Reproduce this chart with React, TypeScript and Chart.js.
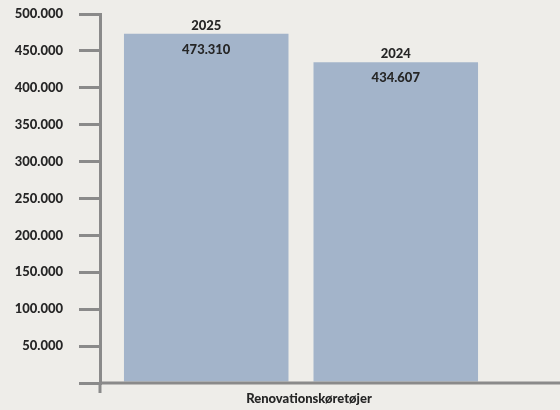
import React, { useEffect, useRef } from "react";
import { Chart, registerables } from "chart.js";

Chart.register(...registerables);

const categories = ["Renovationskøretøjer"];
const seriesLabels = ["2025", "2024"];
const values2025 = [473310];
const values2024 = [434607];
const yTicks = [0, 50000, 100000, 150000, 200000, 250000, 300000, 350000, 400000, 450000, 500000];

const BG = "#eeede9";
const BAR = "#a3b4ca";
const AXIS = "#8a8a8a";
const TEXT = "#262626";
const FONT = "Lato, 'Open Sans', sans-serif";
const WEIGHT = "900";

const fmt = (v: number) => String(v).replace(/\B(?=(\d{3})+(?!\d))/g, ".");

export default function App() {
  const ref = useRef<HTMLCanvasElement | null>(null);

  useEffect(() => {
    document.body.style.margin = "0";
    document.body.style.background = BG;
    const canvas = ref.current;
    if (!canvas) return;

    const bgPlugin = {
      id: "bg",
      beforeDraw(chart: any) {
        const { ctx, width, height } = chart;
        ctx.save();
        ctx.fillStyle = BG;
        ctx.fillRect(0, 0, width, height);
        ctx.restore();
      },
    };

    const axisPlugin = {
      id: "axisExtra",
      afterDatasetsDraw(chart: any) {
        const { ctx, chartArea } = chart;
        const y0 = chart.scales.y.getPixelForValue(0);
        ctx.save();
        ctx.strokeStyle = AXIS;
        ctx.lineWidth = 3;
        ctx.beginPath();
        ctx.moveTo(chartArea.left, y0);
        ctx.lineTo(chart.width, y0);
        ctx.stroke();
        ctx.beginPath();
        ctx.moveTo(chartArea.left, y0);
        ctx.lineTo(chartArea.left, y0 + 10);
        ctx.stroke();
        ctx.restore();
      },
    };

    const labelPlugin = {
      id: "barLabels",
      afterDatasetsDraw(chart: any) {
        const { ctx } = chart;
        ctx.save();
        ctx.fillStyle = TEXT;
        ctx.font = `${WEIGHT} 13px ${FONT}`;
        ctx.textAlign = "center";
        ctx.textBaseline = "middle";
        chart.data.datasets.forEach((ds: any, i: number) => {
          const meta = chart.getDatasetMeta(i);
          meta.data.forEach((el: any, j: number) => {
            ctx.fillText(ds.label, el.x, el.y - 8);
            ctx.fillText(fmt(ds.data[j]), el.x, el.y + 16);
          });
        });
        ctx.restore();
      },
    };

    const chart = new Chart(canvas, {
      type: "bar",
      data: {
        labels: categories,
        datasets: [
          {
            label: seriesLabels[0],
            data: values2025,
            backgroundColor: BAR,
            categoryPercentage: 0.943,
            barPercentage: 0.868,
          },
          {
            label: seriesLabels[1],
            data: values2024,
            backgroundColor: BAR,
            categoryPercentage: 0.943,
            barPercentage: 0.868,
          },
        ],
      },
      options: {
        responsive: false,
        animation: false,
        layout: { padding: { top: 14, right: 58, left: 0, bottom: 0 } },
        plugins: {
          legend: { display: false },
          tooltip: { enabled: false },
        },
        scales: {
          x: {
            grid: { display: false, drawTicks: false },
            border: { display: false },
            ticks: {
              color: TEXT,
              font: { family: FONT, size: 13, weight: WEIGHT },
              labelOffset: 8,
              padding: 8,
            },
            afterFit(scale: any) {
              scale.height = 27;
            },
          },
          y: {
            min: 0,
            max: 500000,
            afterBuildTicks(scale: any) {
              scale.ticks = yTicks.map((v) => ({ value: v }));
            },
            ticks: {
              color: TEXT,
              font: { family: FONT, size: 13, weight: WEIGHT },
              padding: 16,
              callback: (v: any) => (Number(v) === 0 ? "" : fmt(Number(v))),
            },
            grid: {
              drawOnChartArea: false,
              drawTicks: true,
              tickLength: 21,
              color: AXIS,
              lineWidth: 3,
            },
            border: { color: AXIS, width: 3 },
            afterFit(scale: any) {
              scale.width = 100;
              scale.paddingTop = 0;
              scale.paddingBottom = 0;
            },
          },
        },
      },
      plugins: [bgPlugin, axisPlugin, labelPlugin],
    } as any);

    return () => chart.destroy();
  }, []);

  return (
    <div style={{ position: "absolute", left: 0, top: 0, width: 560, height: 410 }}>
      <canvas ref={ref} width={560} height={410} />
    </div>
  );
}
